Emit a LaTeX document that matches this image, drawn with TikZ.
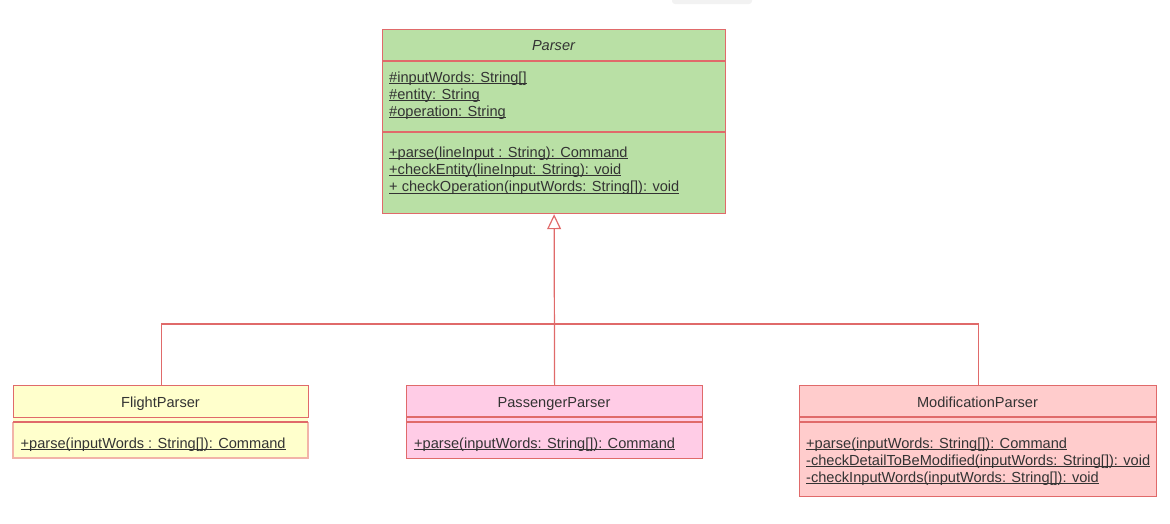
\documentclass[tikz,border=0pt]{standalone}
\usepackage{fontspec}
\setmainfont{Liberation Sans}
\usetikzlibrary{arrows.meta}
\definecolor{bord}{HTML}{E06A6A}
\definecolor{bordlight}{HTML}{F2B4A8}
\definecolor{txt}{HTML}{333333}
\definecolor{greenfill}{HTML}{B9E0A5}
\definecolor{yellowfill}{HTML}{FFFFCC}
\definecolor{pinkfill}{HTML}{FFCCE6}
\definecolor{redfill}{HTML}{FFCCCC}
\definecolor{grayblock}{HTML}{F2F2F2}
\newcommand\myul[1]{\setbox0\hbox{#1}\rlap{\rule[-2.3pt]{\wd0}{0.9pt}}\box0}
\begin{document}
\begin{tikzpicture}[x=1pt,y=-1pt,
  classbox/.style={draw=bord,line width=1.2pt,anchor=north west,inner sep=0pt},
  sep/.style={draw=bord,line width=1.2pt},
  member/.style={anchor=base west,inner sep=0pt,text=txt,font=\fontsize{14.6pt}{17.5pt}\selectfont},
  cname/.style={anchor=base,inner sep=0pt,text=txt,font=\fontsize{14.6pt}{17.5pt}\selectfont},
  conn/.style={draw=bord,line width=1.2pt}
]
\useasboundingbox (0,0) rectangle (1170,523);
% cut-off remnant at top
\fill[grayblock,rounded corners=3pt] (672,-6) rectangle (752,4);

% Parser
\node[classbox,fill=greenfill,minimum width=343pt,minimum height=184pt] (parser) at (382,29) {};
\draw[sep] (382,61) -- (725,61);
\draw[sep] (382,132) -- (725,132);
\node[cname,font=\fontsize{14.6pt}{17.5pt}\selectfont\itshape] (pname) at (553.5,50) {Parser};
\node[member] (pa1) at (389,82) {\myul{\#inputWords: String[]}};
\node[member] (pa2) at (389,99) {\myul{\#entity: String}};
\node[member] (pa3) at (389,116) {\myul{\#operation: String}};
\node[member] (pm1) at (389,157) {\myul{+parse(lineInput : String): Command}};
\node[member] (pm2) at (389,174) {\myul{+checkEntity(lineInput: String): void}};
\node[member] (pm3) at (389,191.5) {\myul{+ checkOperation(inputWords: String[]): void}};

% FlightParser
\fill[yellowfill] (13,385) rectangle (308,458);
\draw[bordlight,line width=1.2pt] (13,422) -- (13,458) -- (308,458) -- (308,422);
\node[classbox,minimum width=295pt,minimum height=32pt] (flight) at (13,385) {};
\draw[sep] (13,422) -- (308,422);
\node[cname] (fname) at (160.5,407) {FlightParser};
\node[member] (fm1) at (20.5,448) {\myul{+parse(inputWords : String[]): Command}};

% PassengerParser
\node[classbox,fill=pinkfill,minimum width=296pt,minimum height=73pt] (pass) at (406,385) {};
\draw[sep] (406,417) -- (702,417);
\draw[sep] (406,422) -- (702,422);
\node[cname] (sname) at (554,407) {PassengerParser};
\node[member] (sm1) at (414,448) {\myul{+parse(inputWords: String[]): Command}};

% ModificationParser
\node[classbox,fill=redfill,minimum width=357pt,minimum height=111pt] (modif) at (799,385) {};
\draw[sep] (799,417) -- (1156,417);
\draw[sep] (799,422) -- (1156,422);
\node[cname] (mname) at (977.5,407) {ModificationParser};
\node[member] (mm1) at (806,448) {\myul{+parse(inputWords: String[]): Command}};
\node[member] (mm2) at (806,465) {\myul{-checkDetailToBeModified(inputWords: String[]): void}};
\node[member] (mm3) at (806,482) {\myul{-checkInputWords(inputWords: String[]): void}};

% connectors
\coordinate (bar) at (553.5,324);
\draw[conn] (flight.north) |- (bar) -| (modif.north);
\draw[conn,-{Triangle[open,length=15pt,width=14pt,line width=1.2pt]}] (pass.north) -- (parser.south);
\end{tikzpicture}
\end{document}
